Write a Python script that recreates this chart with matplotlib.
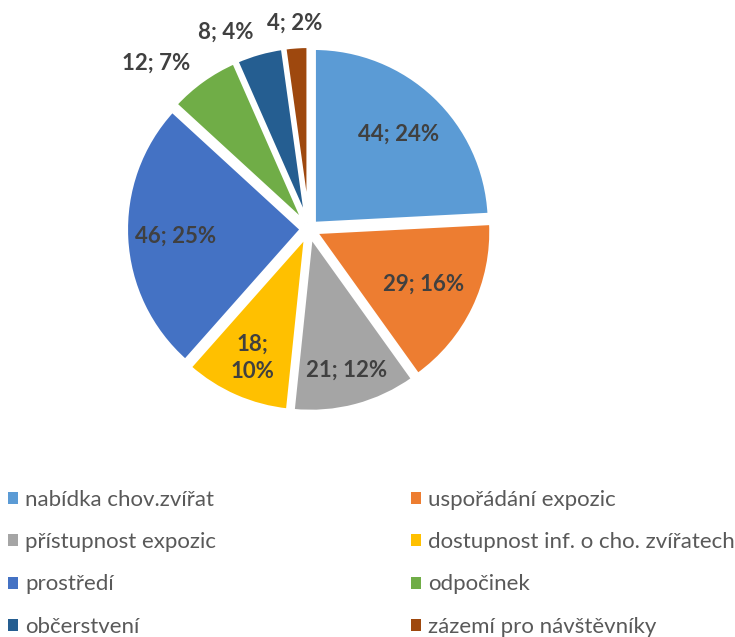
import numpy as np
import matplotlib
matplotlib.use("Agg")
import matplotlib.pyplot as plt
from matplotlib.patches import Patch

categories = ["nabídka chov.zvířat", "uspořádání expozic", "přístupnost expozic",
              "dostupnost inf. o cho. zvířatech", "prostředí", "odpočinek",
              "občerstvení", "zázemí pro návštěvníky"]
values = [44, 29, 21, 18, 46, 12, 8, 4]
labels = ["44; 24%", "29; 16%", "21; 12%", "18;\n10%", "46; 25%", "12; 7%", "8; 4%", "4; 2%"]
colors = ["#5B9BD5", "#ED7D31", "#A5A5A5", "#FFC000", "#4472C4", "#70AD47", "#255E91", "#9E480E"]
# where each label sits, as fraction of radius
label_r = [0.74, 0.72, 0.83, 0.8, 0.76, 1.16, 1.16, 1.17]
outside = [False, False, False, False, False, True, True, True]

plt.rcParams['font.family'] = ['Lato', 'DejaVu Sans']

fig = plt.figure(figsize=(7.35, 6.37), dpi=100)
cx, cy, r = 309, 229, 176
ax = fig.add_axes([(cx - r) / 735, 1 - (cy + r) / 637, 2 * r / 735, 2 * r / 637])

wedges, _ = ax.pie(values, colors=colors, startangle=90, counterclock=False,
                   explode=[0.04] * len(values),
                   wedgeprops=dict(edgecolor="white", linewidth=3))
for w in wedges:
    w.set_clip_on(False)
ax.set_xlim(-1, 1)
ax.set_ylim(-1, 1)

for w, lab, lr, out in zip(wedges, labels, label_r, outside):
    ang = np.deg2rad((w.theta1 + w.theta2) / 2)
    ha = "center"
    if out and np.cos(ang) < -0.1:
        ha = "right"
    elif out and np.cos(ang) > 0.1:
        ha = "left"
    ax.text(lr * np.cos(ang), lr * np.sin(ang), lab, ha=ha, va="center",
            fontsize=16, fontweight="bold", color="#404040", linespacing=1.4)

order = [0, 2, 4, 6, 1, 3, 5, 7]
handles = [Patch(facecolor=colors[i]) for i in order]
fig.legend(handles, [categories[i] for i in order], ncol=2, loc="upper left",
           bbox_to_anchor=(-0.016, 1 - 470 / 637), frameon=False, fontsize=16,
           handlelength=0.45, handleheight=0.45, handletextpad=0.3,
           labelspacing=1.0, columnspacing=8.8, labelcolor="#595959")

plt.savefig("out.png", dpi=100)
